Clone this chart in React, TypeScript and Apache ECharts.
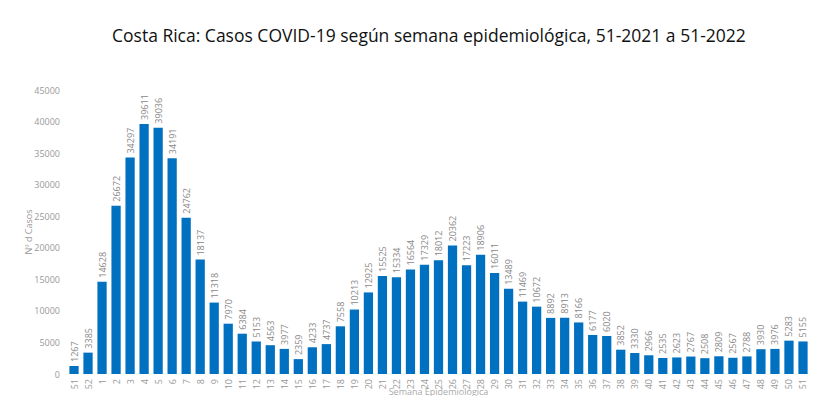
import React, { useEffect, useRef } from "react";
import * as echarts from "echarts";

const weeks = [
  "51", "52", "1", "2", "3", "4", "5", "6", "7", "8", "9", "10", "11", "12", "13", "14", "15", "16", "17",
  "18", "19", "20", "21", "22", "23", "24", "25", "26", "27", "28", "29", "30", "31", "32", "33", "34", "35",
  "36", "37", "38", "39", "40", "41", "42", "43", "44", "45", "46", "47", "48", "49", "50", "51",
];

const cases = [
  1267, 3385, 14628, 26672, 34297, 39611, 39036, 34191, 24762, 18137, 11318, 7970, 6384, 5153, 4563, 3977,
  2359, 4233, 4737, 7558, 10213, 12925, 15525, 15334, 16564, 17329, 18012, 20362, 17223, 18906, 16011, 13489,
  11469, 10672, 8892, 8913, 8166, 6177, 6020, 3852, 3330, 2966, 2535, 2623, 2767, 2508, 2809, 2567, 2788,
  3930, 3976, 5283, 5155,
];

const titleText = "Costa Rica: Casos COVID-19 según semana epidemiológica, 51-2021 a 51-2022";
const yAxisName = "Nº d Casos";
const xAxisName = "Semana Epidemiológica";

export default function App() {
  const ref = useRef<HTMLDivElement>(null);
  useEffect(() => {
    document.body.style.margin = "0";
    if (!ref.current) return;
    const chart = echarts.init(ref.current, null, { renderer: "svg" });
    chart.setOption({
      animation: false,
      backgroundColor: "#ffffff",
      title: {
        text: titleText,
        left: 107,
        top: 21,
        textStyle: {
          fontFamily: "Open Sans",
          fontSize: 17.5,
          fontWeight: "normal",
          color: "#111111",
        },
      },
      grid: { left: 67, right: 30, top: 90, bottom: 22, outerBoundsMode: "none", containLabel: false },
      xAxis: {
        type: "category",
        data: weeks.map((w, i) => ({ value: w + "_" + i, label: w })),
        name: xAxisName,
        nameLocation: "middle",
        nameGap: 12,
        nameMoveOverlap: false,
        nameTextStyle: { color: "#aaaaaa", fontSize: 9, lineHeight: 10, fontFamily: "Open Sans" },
        axisLine: { show: false },
        axisTick: { show: false },
        axisLabel: {
          interval: 0,
          rotate: 90,
          fontSize: 9,
          color: "#999999",
          fontFamily: "Open Sans",
          margin: 5,
          formatter: (v: string) => v.split("_")[0],
        },
      },
      yAxis: {
        type: "value",
        min: 0,
        max: 45000,
        interval: 5000,
        name: yAxisName,
        nameLocation: "middle",
        nameGap: 34,
        nameMoveOverlap: false,
        nameTextStyle: { color: "#999999", fontSize: 9, fontFamily: "Open Sans" },
        splitLine: { show: false },
        axisLine: { show: false },
        axisTick: { show: false },
        axisLabel: {
          fontSize: 9,
          color: "#999999",
          fontFamily: "Open Sans",
          margin: 7,
          formatter: (v: number) => String(v),
        },
      },
      series: [
        {
          type: "bar",
          data: cases,
          barWidth: "66%",
          itemStyle: { color: "#0070C0" },
          label: {
            show: true,
            position: "top",
            rotate: 90,
            align: "left",
            verticalAlign: "middle",
            distance: 4,
            fontSize: 9,
            color: "#888888",
            fontFamily: "Open Sans",
          },
        },
      ],
    });
    return () => chart.dispose();
  }, []);
  return <div ref={ref} style={{ width: 840, height: 396 }} />;
}
